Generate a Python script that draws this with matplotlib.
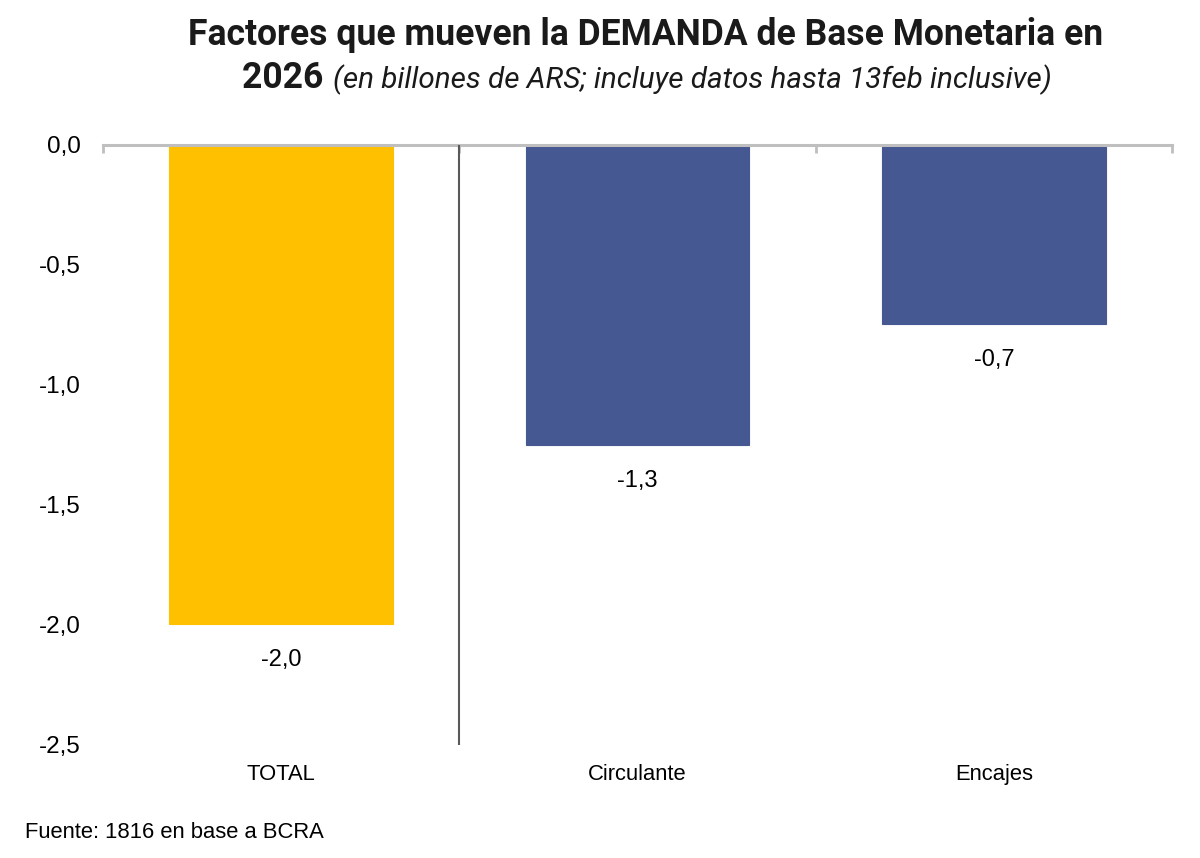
import matplotlib
matplotlib.use('Agg')
import matplotlib.pyplot as plt
from matplotlib.ticker import FuncFormatter, FixedLocator

categories = ['TOTAL', 'Circulante', 'Encajes']
values = [-1.997, -1.252, -0.745]
colors = ['#FFC000', '#465891', '#465891']

title_line1 = 'Factores que mueven la DEMANDA de Base Monetaria en'
title_bold2 = '2026 '
title_ital2 = '(en billones de ARS; incluye datos hasta 13feb inclusive)'
source = 'Fuente: 1816 en base a BCRA'

plt.rcParams['font.family'] = ['Liberation Sans', 'DejaVu Sans']
narrow = ['Liberation Sans Narrow', 'Liberation Sans', 'DejaVu Sans']
title_font = ['Roboto', 'DejaVu Sans']


def comma(v, pos=None):
    return ('%.1f' % v).replace('.', ',')


fig = plt.figure(figsize=(12, 8.58), dpi=100)
ax = fig.add_axes([103 / 1200, 1 - 745 / 858, (1172 - 103) / 1200, 600 / 858])

x = list(range(len(categories)))
bars = ax.bar(x, values, width=0.627, color=colors, edgecolor=colors, linewidth=0.8, zorder=2)
for xi, v in zip(x, values):
    ax.annotate(comma(v), (xi, v), xytext=(0, -18), textcoords='offset points',
                ha='center', va='top', fontsize=17, color='#000000')

ax.set_xlim(-0.5, len(categories) - 0.5)
ax.set_ylim(-2.5, 0)
ax.yaxis.set_major_locator(FixedLocator([0, -0.5, -1.0, -1.5, -2.0, -2.5]))
ax.yaxis.set_major_formatter(FuncFormatter(comma))
ax.tick_params(axis='y', length=0, pad=16, labelsize=17.5, labelcolor='#000000')

ax.set_xticks(x)
ax.set_xticklabels(categories, fontfamily=narrow, fontsize=15.8)
ax.set_xticks([i - 0.5 for i in range(len(categories) + 1)], minor=True)
ax.tick_params(axis='x', which='major', length=0, pad=14, labelcolor='#000000')
ax.tick_params(axis='x', which='minor', top=True, bottom=False, direction='in',
               length=6, width=2, color='#BFBFBF')

for side in ['left', 'right', 'bottom']:
    ax.spines[side].set_visible(False)
ax.spines['top'].set_color('#BFBFBF')
ax.spines['top'].set_linewidth(2.2)
ax.axvline(0.5, color='#595959', linewidth=1.5, zorder=3)

# title
fig.text(646 / 1200, 1 - 45 / 858, title_line1, ha='center', va='baseline',
         fontsize=25.6, fontweight='bold', family=title_font, color='#1a1a1a')
t_b = fig.text(0, 1 - 88 / 858, title_bold2, ha='left', va='baseline',
               fontsize=25.6, fontweight='bold', family=title_font, color='#1a1a1a')
t_i = fig.text(0, 1 - 88 / 858, title_ital2, ha='left', va='baseline',
               fontsize=21.3, fontstyle='italic', family=title_font, color='#1a1a1a')
fig.canvas.draw()
r = fig.canvas.get_renderer()
wb = t_b.get_window_extent(r).width
wi = t_i.get_window_extent(r).width
x0 = 647 - (wb + wi) / 2
t_b.set_x(x0 / 1200)
t_i.set_x((x0 + wb) / 1200)

fig.text(25 / 1200, 1 - 838 / 858, source, ha='left', va='baseline',
         fontsize=15.8, family=narrow, color='#000000')

fig.savefig('out.png', dpi=100, facecolor='white')
